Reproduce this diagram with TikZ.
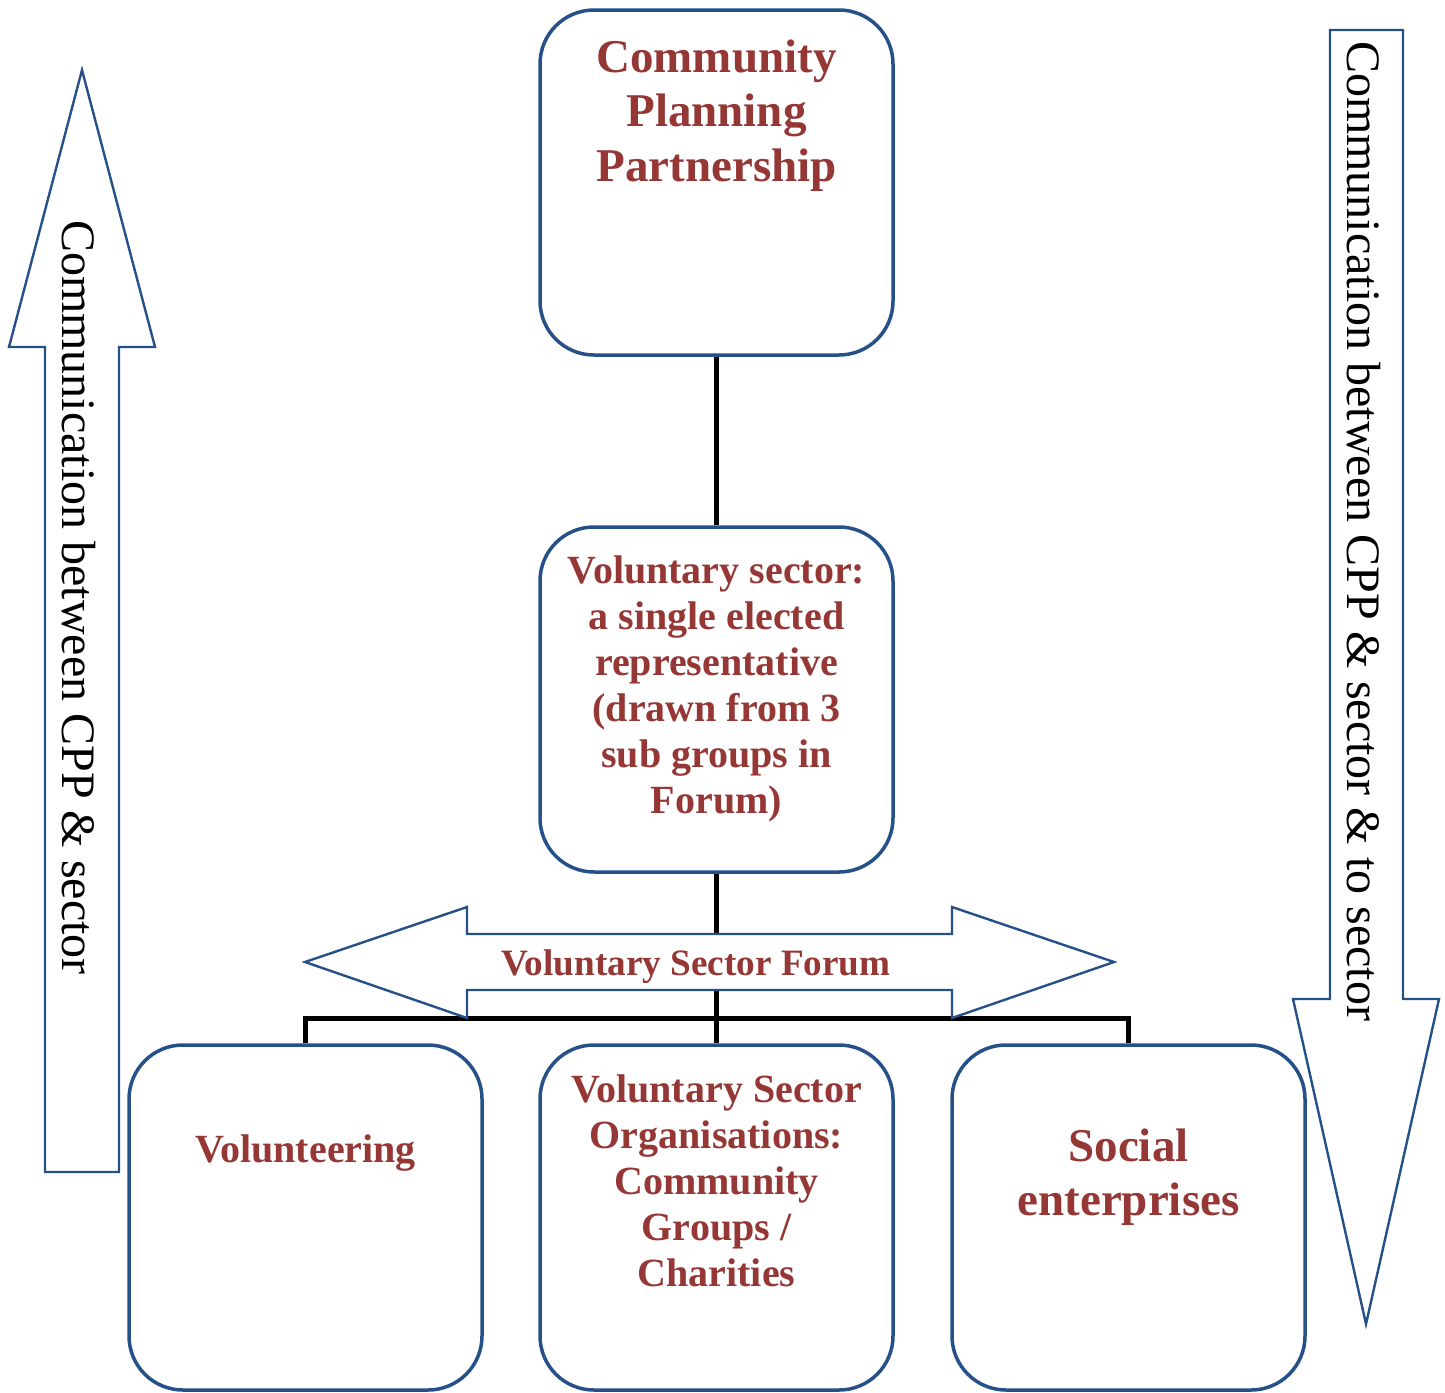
\documentclass[tikz,border=0pt]{standalone}
\usepackage{fontspec}
\setmainfont{Liberation Serif}
\definecolor{tred}{RGB}{149,55,53}
\definecolor{bblue}{RGB}{38,80,136}
\tikzset{
  box/.style={draw=bblue, line width=1.75pt, rounded corners=27pt, minimum width=176.5pt, minimum height=172.5pt, fill=white, inner sep=0pt},
  bigtxt/.style={text=tred, font=\fontsize{23.5pt}{27.25pt}\selectfont\bfseries, inner sep=0pt, anchor=base},
  midtxt/.style={text=tred, font=\fontsize{20pt}{23pt}\selectfont\bfseries, inner sep=0pt, anchor=base},
  forumtxt/.style={text=tred, font=\fontsize{18.6pt}{22pt}\selectfont\bfseries, inner sep=0pt, anchor=base},
  conn/.style={line width=2.5pt, black},
  outl/.style={draw=bblue, line width=1.2pt, fill=white, line join=miter},
  sidetxt/.style={font=\fontsize{24pt}{28pt}\selectfont, rotate=-90, inner sep=0pt, anchor=base},
}
\begin{document}
\begin{tikzpicture}[x=0.5pt,y=-0.5pt]
\useasboundingbox (0,0) rectangle (1445,1392);
% side arrows
\draw[outl] (82,70) -- (155,347) -- (119,347) -- (119,1172) -- (45,1172) -- (45,347) -- (9,347) -- cycle;
\draw[outl] (1330,30) -- (1403,30) -- (1403,999) -- (1439,999) -- (1366,1324) -- (1293,999) -- (1330,999) -- cycle;
\node[sidetxt] (lefttxt) at (62,597.5) {Communication between CPP \& sector};
\node[sidetxt] (righttxt) at (1347,531) {Communication between CPP \& sector \& to sector};
% boxes
\node[box] (cpp) at (716.5,182.5) {};
\node[box] (rep) at (716.5,699.5) {};
\node[box] (vol) at (305.5,1217.5) {};
\node[box] (vso) at (716.5,1217.5) {};
\node[box] (soc) at (1128.5,1217.5) {};
% connectors
\coordinate (hl) at (304,1018);
\draw[conn] (cpp.south) -- (rep.north);
\draw[conn] (rep.south) -- (vso.north);
\draw[conn] (vol.north) -- (vol.north |- hl) -- (soc.north |- hl) -- (soc.north);
% forum double arrow
\draw[outl] (305,962) -- (467,907) -- (467,934) -- (952,934) -- (952,907) -- (1114,962) -- (952,1018) -- (952,990) -- (467,990) -- (467,1018) -- cycle;
\node[forumtxt] (forum) at (696,975) {Voluntary Sector Forum};
% texts
\node[bigtxt] (cpptxt) at (716.5,72) {\begin{tabular}[t]{@{}c@{}}Community\\Planning\\Partnership\end{tabular}};
\node[midtxt] (reptxt) at (716.5,583) {\begin{tabular}[t]{@{}c@{}}Voluntary sector:\\a single elected\\representative\\(drawn from 3\\sub groups in\\Forum)\end{tabular}};
\node[midtxt] (voltxt) at (305.5,1162) {Volunteering};
\node[midtxt] (vsotxt) at (716.5,1102) {\begin{tabular}[t]{@{}c@{}}Voluntary Sector\\Organisations:\\Community\\Groups /\\Charities\end{tabular}};
\node[bigtxt] (soctxt) at (1128.5,1161) {\begin{tabular}[t]{@{}c@{}}Social\\enterprises\end{tabular}};
\end{tikzpicture}
\end{document}
